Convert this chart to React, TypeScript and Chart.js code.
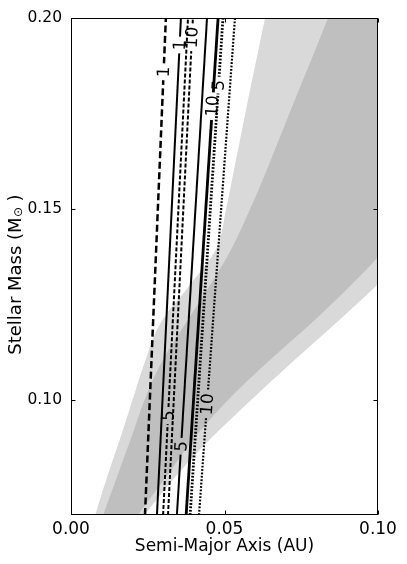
import React, { useEffect, useRef } from 'react';
import { Chart, registerables } from 'chart.js';

Chart.register(...registerables);

// ---- Data ----
// Grey zones: x (AU) of each boundary at each stellar mass (first/last rows lie just outside the axes)
const massGrid = [0.06, 0.07, 0.08, 0.09, 0.10, 0.11, 0.12, 0.13, 0.14, 0.15, 0.16, 0.17, 0.18, 0.19, 0.20, 0.21];
const lightInner = [0.0045, 0.0079, 0.0118, 0.0160, 0.0200, 0.0240, 0.0290, 0.0385, 0.0475, 0.0505, 0.0530, 0.0555, 0.0580, 0.0606, 0.0632, 0.0658];
const lightOuter = [0.0150, 0.0240, 0.0340, 0.0455, 0.0585, 0.0720, 0.0860, 0.0995, 0.1130, 0.1270, 0.1410, 0.1550, 0.1690, 0.1830, 0.1970, 0.2110];
const darkInner = [0.0065, 0.0105, 0.0150, 0.0195, 0.0239, 0.0295, 0.0372, 0.0452, 0.0525, 0.0583, 0.0636, 0.0686, 0.0736, 0.0787, 0.0837, 0.0887];
const darkOuter = [0.0130, 0.0218, 0.0310, 0.0400, 0.0510, 0.0640, 0.0780, 0.0910, 0.1030, 0.1150, 0.1270, 0.1390, 0.1510, 0.1630, 0.1750, 0.1870];

// Contours: x (AU) at the bottom and top mass
const contourMass = [0.07, 0.20];
const dashed1 = [0.0241, 0.0309];
const solid1 = [0.0280, 0.0358];
const dashed5 = [0.0300, 0.0381];
const dashed10 = [0.0316, 0.0397];
const solid5 = [0.0345, 0.0443];
const solid10 = [0.0375, 0.0479];
const dotted5 = [0.0388, 0.0495];
const dotted10 = [0.0417, 0.0534];

const contourSeries = [dashed1, solid1, dashed5, dashed10, solid5, solid10, dotted5, dotted10];
const contourLabels = ['1', '1', '5', '10', '5', '10', '5', '10'];
const contourLabelMass = [0.186, 0.193, 0.096, 0.195, 0.088, 0.177, 0.1825, 0.099];
const contourDash = [[7, 3.5], [], [4, 2], [4, 2], [], [], [1.8, 1.6], [1.8, 1.6]];
const contourWidths = [2.5, 2, 2, 2, 2, 2.8, 2.8, 2.2];

const xTicks = [0, 0.05, 0.1];
const yTicks = [0.1, 0.15, 0.2];
const xTitle = 'Semi-Major Axis (AU)';

const FONT = 'DejaVu Sans';
const LABEL_FONT = `17px "${FONT}"`;

function labelGeom(chart: any, ci: number) {
  const xs = chart.scales.x;
  const ys = chart.scales.y;
  const s = contourSeries[ci];
  const p0 = { x: xs.getPixelForValue(s[0]), y: ys.getPixelForValue(contourMass[0]) };
  const p1 = { x: xs.getPixelForValue(s[1]), y: ys.getPixelForValue(contourMass[1]) };
  const m = contourLabelMass[ci];
  const t = (m - contourMass[0]) / (contourMass[1] - contourMass[0]);
  const xv = s[0] + (s[1] - s[0]) * t;
  const cx = xs.getPixelForValue(xv);
  const cy = ys.getPixelForValue(m);
  const angle = Math.atan2(p1.y - p0.y, p1.x - p0.x);
  return { cx, cy, angle };
}

const labelPlugin = {
  id: 'contourLabels',
  beforeDatasetDraw(chart: any, args: any) {
    const ds = chart.data.datasets[args.index];
    if (ds._ci === undefined) return;
    const ctx = chart.ctx;
    const { cx, cy, angle } = labelGeom(chart, ds._ci);
    ctx.save();
    ctx.font = LABEL_FONT;
    const w = ctx.measureText(contourLabels[ds._ci]).width + 6;
    const h = 14;
    const c = Math.cos(angle), sn = Math.sin(angle);
    const pts = [[-w / 2, -h / 2], [w / 2, -h / 2], [w / 2, h / 2], [-w / 2, h / 2]].map(([a, b]) => [cx + a * c - b * sn, cy + a * sn + b * c]);
    ctx.beginPath();
    ctx.rect(0, 0, chart.width, chart.height);
    ctx.moveTo(pts[0][0], pts[0][1]);
    for (let i = 1; i < 4; i++) ctx.lineTo(pts[i][0], pts[i][1]);
    ctx.closePath();
    ctx.clip('evenodd');
  },
  afterDatasetDraw(chart: any, args: any) {
    const ds = chart.data.datasets[args.index];
    if (ds._ci === undefined) return;
    chart.ctx.restore();
  },
  afterDatasetsDraw(chart: any) {
    const ctx = chart.ctx;
    const area = chart.chartArea;
    ctx.save();
    ctx.beginPath();
    ctx.rect(area.left, area.top, area.right - area.left, area.bottom - area.top);
    ctx.clip();
    ctx.fillStyle = '#000';
    ctx.font = LABEL_FONT;
    ctx.textAlign = 'center';
    ctx.textBaseline = 'middle';
    for (let i = 0; i < contourSeries.length; i++) {
      const { cx, cy, angle } = labelGeom(chart, i);
      ctx.save();
      ctx.translate(cx, cy);
      ctx.rotate(angle);
      ctx.fillText(contourLabels[i], 0, 1);
      ctx.restore();
    }
    ctx.restore();
  },
  afterDraw(chart: any) {
    const ctx = chart.ctx;
    const a = chart.chartArea;
    const xs = chart.scales.x;
    const ys = chart.scales.y;
    ctx.save();
    ctx.strokeStyle = '#000';
    ctx.lineWidth = 1;
    const L = Math.round(a.left) + 0.5, R = Math.round(a.right) - 0.5, T = Math.round(a.top) + 0.5, B = Math.round(a.bottom) - 0.5;
    ctx.strokeRect(L, T, R - L, B - T);
    const tl = 4;
    ctx.beginPath();
    for (const v of xTicks) {
      const px = Math.round(xs.getPixelForValue(v)) + 0.5;
      ctx.moveTo(px, B); ctx.lineTo(px, B - tl);
      ctx.moveTo(px, T); ctx.lineTo(px, T + tl);
    }
    for (const v of yTicks) {
      const py = Math.round(ys.getPixelForValue(v)) + 0.5;
      ctx.moveTo(L, py); ctx.lineTo(L + tl, py);
      ctx.moveTo(R, py); ctx.lineTo(R - tl, py);
    }
    ctx.stroke();
    ctx.fillStyle = '#000';
    // x tick labels and x title
    ctx.font = `17px "${FONT}"`;
    ctx.textAlign = 'center';
    ctx.textBaseline = 'middle';
    for (const v of xTicks) {
      ctx.fillText(v.toFixed(2), xs.getPixelForValue(v), a.bottom + 15);
    }
    ctx.fillText(xTitle, (a.left + a.right) / 2, a.bottom + 32);
    // y-axis title with subscript sun symbol
    ctx.translate(16, (a.top + a.bottom) / 2 + 8);
    ctx.rotate(-Math.PI / 2);
    ctx.textAlign = 'left';
    const big = `18px "${FONT}"`;
    const small = `12px "${FONT}"`;
    const t1 = 'Stellar Mass (M';
    const t2 = '\u2299';
    const t3 = ' )';
    ctx.font = big;
    const w1 = ctx.measureText(t1).width;
    const w3 = ctx.measureText(t3).width;
    ctx.font = small;
    const w2 = ctx.measureText(t2).width;
    let x0 = -(w1 + w2 + w3) / 2;
    ctx.font = big;
    ctx.fillText(t1, x0, 0);
    x0 += w1;
    ctx.font = small;
    ctx.fillText(t2, x0 + 0.5, 3);
    x0 += w2;
    ctx.font = big;
    ctx.fillText(t3, x0, 0);
    ctx.restore();
  },
};

function polygon(inner: number[], outer: number[]) {
  const pts: { x: number; y: number }[] = [];
  for (let i = 0; i < massGrid.length; i++) pts.push({ x: inner[i], y: massGrid[i] });
  for (let i = massGrid.length - 1; i >= 0; i--) pts.push({ x: outer[i], y: massGrid[i] });
  return pts;
}

export default function App() {
  const ref = useRef<HTMLCanvasElement>(null);
  useEffect(() => {
    document.body.style.margin = '0';
    Chart.defaults.font.family = FONT;
    const datasets: any[] = [];
    contourSeries.forEach((s, i) => {
      datasets.push({
        _ci: i,
        data: contourMass.map((m, k) => ({ x: s[k], y: m })),
        showLine: true,
        borderColor: '#000',
        borderWidth: contourWidths[i],
        borderDash: contourDash[i],
        borderCapStyle: 'butt',
        pointRadius: 0,
        fill: false,
        order: 0,
      });
    });
    const zone = (inner: number[], outer: number[], color: string, order: number) => ({
      data: polygon(inner, outer),
      showLine: true,
      borderWidth: 0,
      borderColor: 'rgba(0,0,0,0)',
      backgroundColor: color,
      pointRadius: 0,
      fill: 'shape',
      tension: 0.35,
      capBezierPoints: false,
      order,
    });
    datasets.push(zone(darkInner, darkOuter, '#bfbfbf', 1));
    datasets.push(zone(lightInner, lightOuter, '#d9d9d9', 2));
    const chart = new Chart(ref.current as HTMLCanvasElement, {
      type: 'scatter',
      data: { datasets },
      options: {
        animation: false,
        responsive: false,
        events: [],
        layout: { padding: { left: 0, top: 16, right: 29, bottom: 0 } },
        plugins: { legend: { display: false }, tooltip: { enabled: false } },
        scales: {
          x: {
            type: 'linear',
            min: 0,
            max: 0.1,
            afterBuildTicks: (s: any) => { s.ticks = xTicks.map((v) => ({ value: v })); },
            afterFit: (s: any) => { s.height = 49; },
            grid: { display: false, drawTicks: false },
            border: { display: false },
            ticks: { display: false },
            title: { display: false },
          },
          y: {
            type: 'linear',
            min: 0.07,
            max: 0.2,
            afterBuildTicks: (s: any) => { s.ticks = yTicks.map((v) => ({ value: v })); },
            afterFit: (s: any) => { s.width = 71; },
            grid: { display: false, drawTicks: false },
            border: { display: false },
            ticks: {
              color: '#000',
              font: { size: 15.5, family: FONT },
              padding: 9,
              callback: (v: any) => Number(v).toFixed(2),
            },
          },
        },
      },
      plugins: [labelPlugin],
    } as any);
    return () => chart.destroy();
  }, []);
  return (
    <div style={{ width: 407, height: 564 }}>
      <canvas ref={ref} width={407} height={564} style={{ display: 'block' }} />
    </div>
  );
}
